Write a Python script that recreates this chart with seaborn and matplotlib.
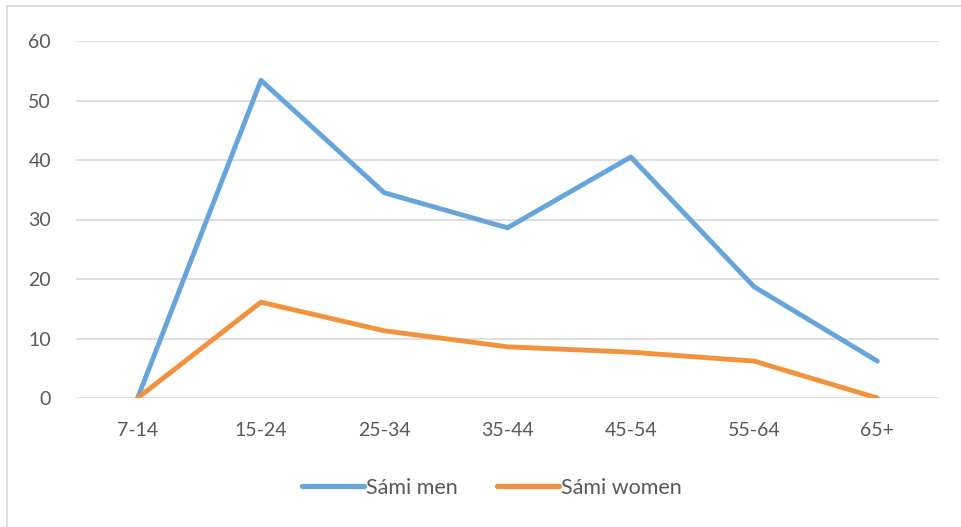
import matplotlib
matplotlib.use("Agg")
import matplotlib.pyplot as plt
import seaborn as sns
import pandas as pd
from matplotlib.lines import Line2D

age_groups = ["7-14", "15-24", "25-34", "35-44", "45-54", "55-64", "65+"]
sami_men = [0, 53.4, 34.5, 28.6, 40.5, 18.7, 6.2]
sami_women = [0, 16.1, 11.3, 8.6, 7.7, 6.2, 0]

series_names = ["Sámi men", "Sámi women"]
colors = ["#66A5DB", "#F3913D"]

df = pd.DataFrame({
    "age": age_groups * 2,
    "value": sami_men + sami_women,
    "group": [series_names[0]] * len(age_groups) + [series_names[1]] * len(age_groups),
})

sns.set_theme(style="white")
plt.rcParams["font.family"] = ["Lato", "DejaVu Sans"]
text_color = "#595959"

fig = plt.figure(figsize=(9.62, 5.27), dpi=100)
ax = fig.add_axes([76 / 962, 1 - 398 / 527, (939 - 76) / 962, (398 - 41) / 527])

sns.lineplot(data=df, x="age", y="value", hue="group", palette=colors,
             linewidth=3.5, sort=False, legend=False, ax=ax,
             solid_capstyle="round", solid_joinstyle="round")

ax.set_xlim(-0.5, len(age_groups) - 0.5)
ax.set_ylim(0, 60)
ax.set_yticks(range(0, 61, 10))
ax.yaxis.grid(True, color="#D9D9D9", linewidth=1.2)
ax.set_axisbelow(True)
for s in ax.spines.values():
    s.set_visible(False)
ax.set_xlabel("")
ax.set_ylabel("")
ax.tick_params(axis="both", length=0, labelsize=14, labelcolor=text_color)
ax.tick_params(axis="x", pad=17)
ax.tick_params(axis="y", pad=18)

handles = [Line2D([0], [0], color=c, lw=3.8, solid_capstyle="round") for c in colors]
leg = fig.legend(handles, series_names, loc="center", bbox_to_anchor=(492 / 962, 1 - 488 / 527),
                 ncol=2, frameon=False, fontsize=15.5, handlelength=2.9, handletextpad=0.1,
                 columnspacing=1.8)
for t in leg.get_texts():
    t.set_color(text_color)

# chart area border (cropped on right and bottom in the original)
fig.add_artist(Line2D([7.5 / 962, 7.5 / 962], [0, 1 - 6 / 527], transform=fig.transFigure,
                      color="#D9D9D9", lw=1.2))
fig.add_artist(Line2D([7.5 / 962, 1], [1 - 6 / 527, 1 - 6 / 527], transform=fig.transFigure,
                      color="#D9D9D9", lw=1.2))

fig.savefig("out.png", dpi=100)
